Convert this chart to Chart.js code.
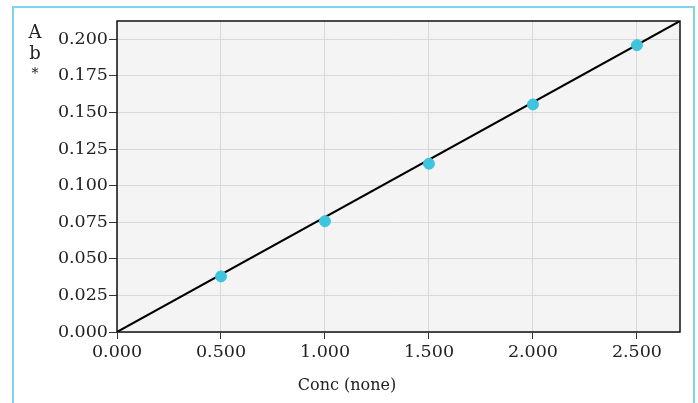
<!DOCTYPE html>
<html><head><meta charset="utf-8">
<script src="https://cdn.jsdelivr.net/npm/chart.js@4/dist/chart.umd.min.js"></script>
<style>html,body{margin:0;padding:0;background:#fff}#wrap{width:698px;height:403px;position:relative}</style>
</head><body><div id="wrap"><canvas id="c" width="698" height="403"></canvas></div>
<script>
const concValues = [0.5, 1.0, 1.5, 2.0, 2.5];
const absValues = [0.038, 0.0757, 0.115, 0.1555, 0.196];
const fitX = [0, 2.707];
const fitY = [0, 0.2125];
const xTickStep = 0.5;
const yTickStep = 0.025;
const xTitle = 'Conc (none)';
const yTitleChars = ['A', 'b', '*'];

const FONT = '"DejaVu Serif", serif';
const TXT = '#222';

const framePlugin = {
  id: 'frame',
  beforeDraw(chart) {
    const {ctx, chartArea: a} = chart;
    ctx.save();
    ctx.fillStyle = '#f4f4f4';
    ctx.fillRect(a.left, a.top, a.right - a.left, a.bottom - a.top);
    ctx.restore();
  },
  afterDraw(chart) {
    const {ctx, chartArea: a} = chart;
    ctx.save();
    ctx.strokeStyle = '#7fd4ea';
    ctx.lineWidth = 2;
    ctx.strokeRect(13, 7, 681, 430);
    ctx.strokeStyle = '#111';
    ctx.lineWidth = 1.5;
    ctx.strokeRect(a.left, a.top, a.right - a.left, a.bottom - a.top);
    ctx.fillStyle = TXT;
    ctx.font = '16px ' + FONT;
    ctx.textAlign = 'center';
    ctx.textBaseline = 'alphabetic';
    ctx.fillText(xTitle, 347, 390);
    ctx.font = '18px ' + FONT;
    const ys = [38, 59, 78];
    yTitleChars.forEach((ch, i) => {
      if (ch === '*') { ctx.font = '14px ' + FONT; }
      ctx.fillText(ch, 35, ys[i]);
    });
    ctx.restore();
  }
};

new Chart(document.getElementById('c'), {
  type: 'scatter',
  data: {
    datasets: [
      {
        data: concValues.map((x, i) => ({x, y: absValues[i]})),
        backgroundColor: '#3fc4de',
        borderColor: '#3fc4de',
        pointRadius: 5.5,
        pointHoverRadius: 5.5,
        order: 0
      },
      {
        data: fitX.map((x, i) => ({x, y: fitY[i]})),
        showLine: true,
        borderColor: '#000',
        borderWidth: 2,
        pointRadius: 0,
        order: 1
      }
    ]
  },
  options: {
    responsive: false,
    animation: false,
    events: [],
    layout: {padding: {left: 0, top: 21, right: 18, bottom: 0}},
    plugins: {legend: {display: false}, tooltip: {enabled: false}},
    scales: {
      x: {
        type: 'linear', min: 0, max: fitX[1],
        afterFit(s) { s.height = 71; },
        border: {display: false},
        grid: {color: '#d9d9d9', tickColor: '#333', tickLength: 7, lineWidth: 1},
        ticks: {stepSize: xTickStep, includeBounds: false, padding: 3, color: TXT,
          font: {family: FONT, size: 17.5}, maxRotation: 0,
          callback: v => Number(v).toFixed(3)}
      },
      y: {
        type: 'linear', min: 0, max: fitY[1],
        afterFit(s) { s.width = 117; },
        border: {display: false},
        grid: {color: '#d9d9d9', tickColor: '#333', tickLength: 8, lineWidth: 1},
        ticks: {stepSize: yTickStep, includeBounds: false, padding: 1, color: TXT,
          font: {family: FONT, size: 17.5},
          callback: v => Number(v).toFixed(3)}
      }
    }
  },
  plugins: [framePlugin]
});
</script></body></html>
